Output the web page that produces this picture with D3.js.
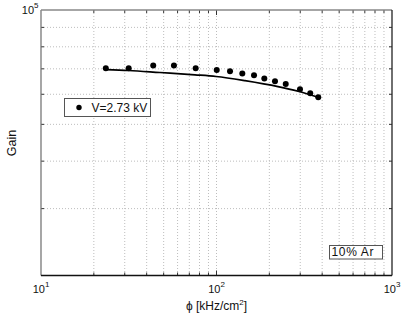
<!DOCTYPE html>
<html><head><meta charset="utf-8">
<script src="https://cdn.jsdelivr.net/npm/d3@7"></script>
<style>body{margin:0;background:#fff}svg{display:block;font-family:"Liberation Sans",Arial,sans-serif}</style>
</head><body><svg id="c" width="409" height="314"></svg>
<script>
// Data
const fluxPts = [23.4, 31.6, 43.6, 57.2, 76.1, 100.3, 119.4, 140.3, 163.6, 187.3, 215.4, 248, 299, 342, 380];
const gainPts = [70300, 70300, 71400, 71400, 70300, 69500, 69000, 68000, 67300, 66000, 64900, 63900, 61850, 60400, 58900];
const fitFlux = [23.4, 31.6, 47.6, 75.4, 99.4, 145.3, 224, 291.3, 383.7];
const fitGain = [69700, 69300, 68460, 67510, 66830, 65160, 62850, 61100, 58850];
const xMajor = [10, 100, 1000];
const xMinor = [20,30,40,50,60,70,80,90,200,300,400,500,600,700,800,900];
const yMajor = [100000];
const yMinor = [20000,30000,40000,50000,60000,70000,80000,90000];
const legendLabel = "V=2.73 kV";
const noteLabel = "10% Ar";

const svg = d3.select("#c");
const L = 41, R = 392, T = 10, B = 275.5;
const x = d3.scaleLog().domain([10, 1000]).range([L, R]);
const y = d3.scaleLog().domain([20000, 100000]).range([B, T]);

// grid
const g = svg.append("g");
g.selectAll(".gx").data(xMinor.concat([100])).join("line")
  .attr("x1", d => x(d)).attr("x2", d => x(d)).attr("y1", T).attr("y2", B)
  .attr("stroke", "#bdbdbd").attr("stroke-width", 1).attr("stroke-dasharray", "1,2");
g.selectAll(".gy").data(yMinor.slice(1)).join("line")
  .attr("y1", d => y(d)).attr("y2", d => y(d)).attr("x1", L).attr("x2", R)
  .attr("stroke", "#bdbdbd").attr("stroke-width", 1).attr("stroke-dasharray", "1,2");

// ticks (inward)
const tk = svg.append("g").attr("stroke", "#333").attr("stroke-width", 1);
xMinor.concat([100]).forEach(d => {
  const len = d === 100 ? 5 : 3;
  tk.append("line").attr("x1", x(d)).attr("x2", x(d)).attr("y1", B).attr("y2", B - len);
  tk.append("line").attr("x1", x(d)).attr("x2", x(d)).attr("y1", T).attr("y2", T + len);
});
yMinor.slice(1).forEach(d => {
  tk.append("line").attr("y1", y(d)).attr("y2", y(d)).attr("x1", L).attr("x2", L + 3);
  tk.append("line").attr("y1", y(d)).attr("y2", y(d)).attr("x1", R).attr("x2", R - 3);
});

// box
svg.append("line").attr("x1", L).attr("x2", L).attr("y1", T).attr("y2", B).attr("stroke", "#777").attr("stroke-width", 1.3);
svg.append("line").attr("x1", L).attr("x2", R).attr("y1", T).attr("y2", T).attr("stroke", "#888").attr("stroke-width", 1.3);
svg.append("line").attr("x1", L).attr("x2", R).attr("y1", B).attr("y2", B).attr("stroke", "#111").attr("stroke-width", 1.3);
svg.append("line").attr("x1", R).attr("x2", R).attr("y1", T).attr("y2", B).attr("stroke", "#222").attr("stroke-width", 1.3);

// tick labels
const expo = d => Math.round(Math.log10(d));
xMajor.forEach(d => {
  const t = svg.append("text").attr("x", x(d)).attr("y", 292.5).attr("text-anchor", "middle")
    .attr("font-size", 11).attr("fill", "#111");
  t.append("tspan").text("10");
  t.append("tspan").attr("dy", -6).attr("font-size", 8).text(expo(d));
});
yMajor.forEach(d => {
  const t = svg.append("text").attr("x", 38.5).attr("y", y(d) + 4).attr("text-anchor", "end")
    .attr("font-size", 11).attr("fill", "#111");
  t.append("tspan").text("10");
  t.append("tspan").attr("dy", -6).attr("font-size", 8).text(expo(d));
});

// axis titles
const xt = svg.append("text").attr("x", 216.5).attr("y", 309.5).attr("text-anchor", "middle")
  .attr("font-size", 12).attr("fill", "#111");
xt.append("tspan").text("ϕ [kHz/cm");
xt.append("tspan").attr("dy", -5).attr("font-size", 8).text("2");
xt.append("tspan").attr("dy", 5).text("]");
svg.append("text").attr("transform", "translate(15.5,143) rotate(-90)").attr("text-anchor", "middle")
  .attr("font-size", 12.5).attr("fill", "#111").text("Gain");

// fit line
const line = d3.line().x(d => x(d[0])).y(d => y(d[1])).curve(d3.curveMonotoneX);
svg.append("path").datum(fitFlux.map((f, i) => [f, fitGain[i]])).attr("d", line)
  .attr("fill", "none").attr("stroke", "#000").attr("stroke-width", 1.7);

// points
svg.selectAll(".pt").data(fluxPts.map((f, i) => [f, gainPts[i]])).join("circle")
  .attr("cx", d => x(d[0])).attr("cy", d => y(d[1])).attr("r", 3).attr("fill", "#000");

// legend
svg.append("rect").attr("x", 64.5).attr("y", 98.5).attr("width", 86).attr("height", 18)
  .attr("fill", "#fff").attr("stroke", "#555").attr("stroke-width", 1);
svg.append("circle").attr("cx", 79).attr("cy", 107.5).attr("r", 2.7).attr("fill", "#000");
svg.append("text").attr("x", 91.5).attr("y", 111.8).attr("font-size", 12).attr("fill", "#111").text(legendLabel);

// note box
svg.append("rect").attr("x", 329.5).attr("y", 245.5).attr("width", 53).attr("height", 13.5)
  .attr("fill", "#fff").attr("stroke", "#555").attr("stroke-width", 1);
svg.append("text").attr("x", 331.5).attr("y", 256.2).attr("font-size", 12).attr("fill", "#111")
  .attr("textLength", 42).text(noteLabel);
</script></body></html>
